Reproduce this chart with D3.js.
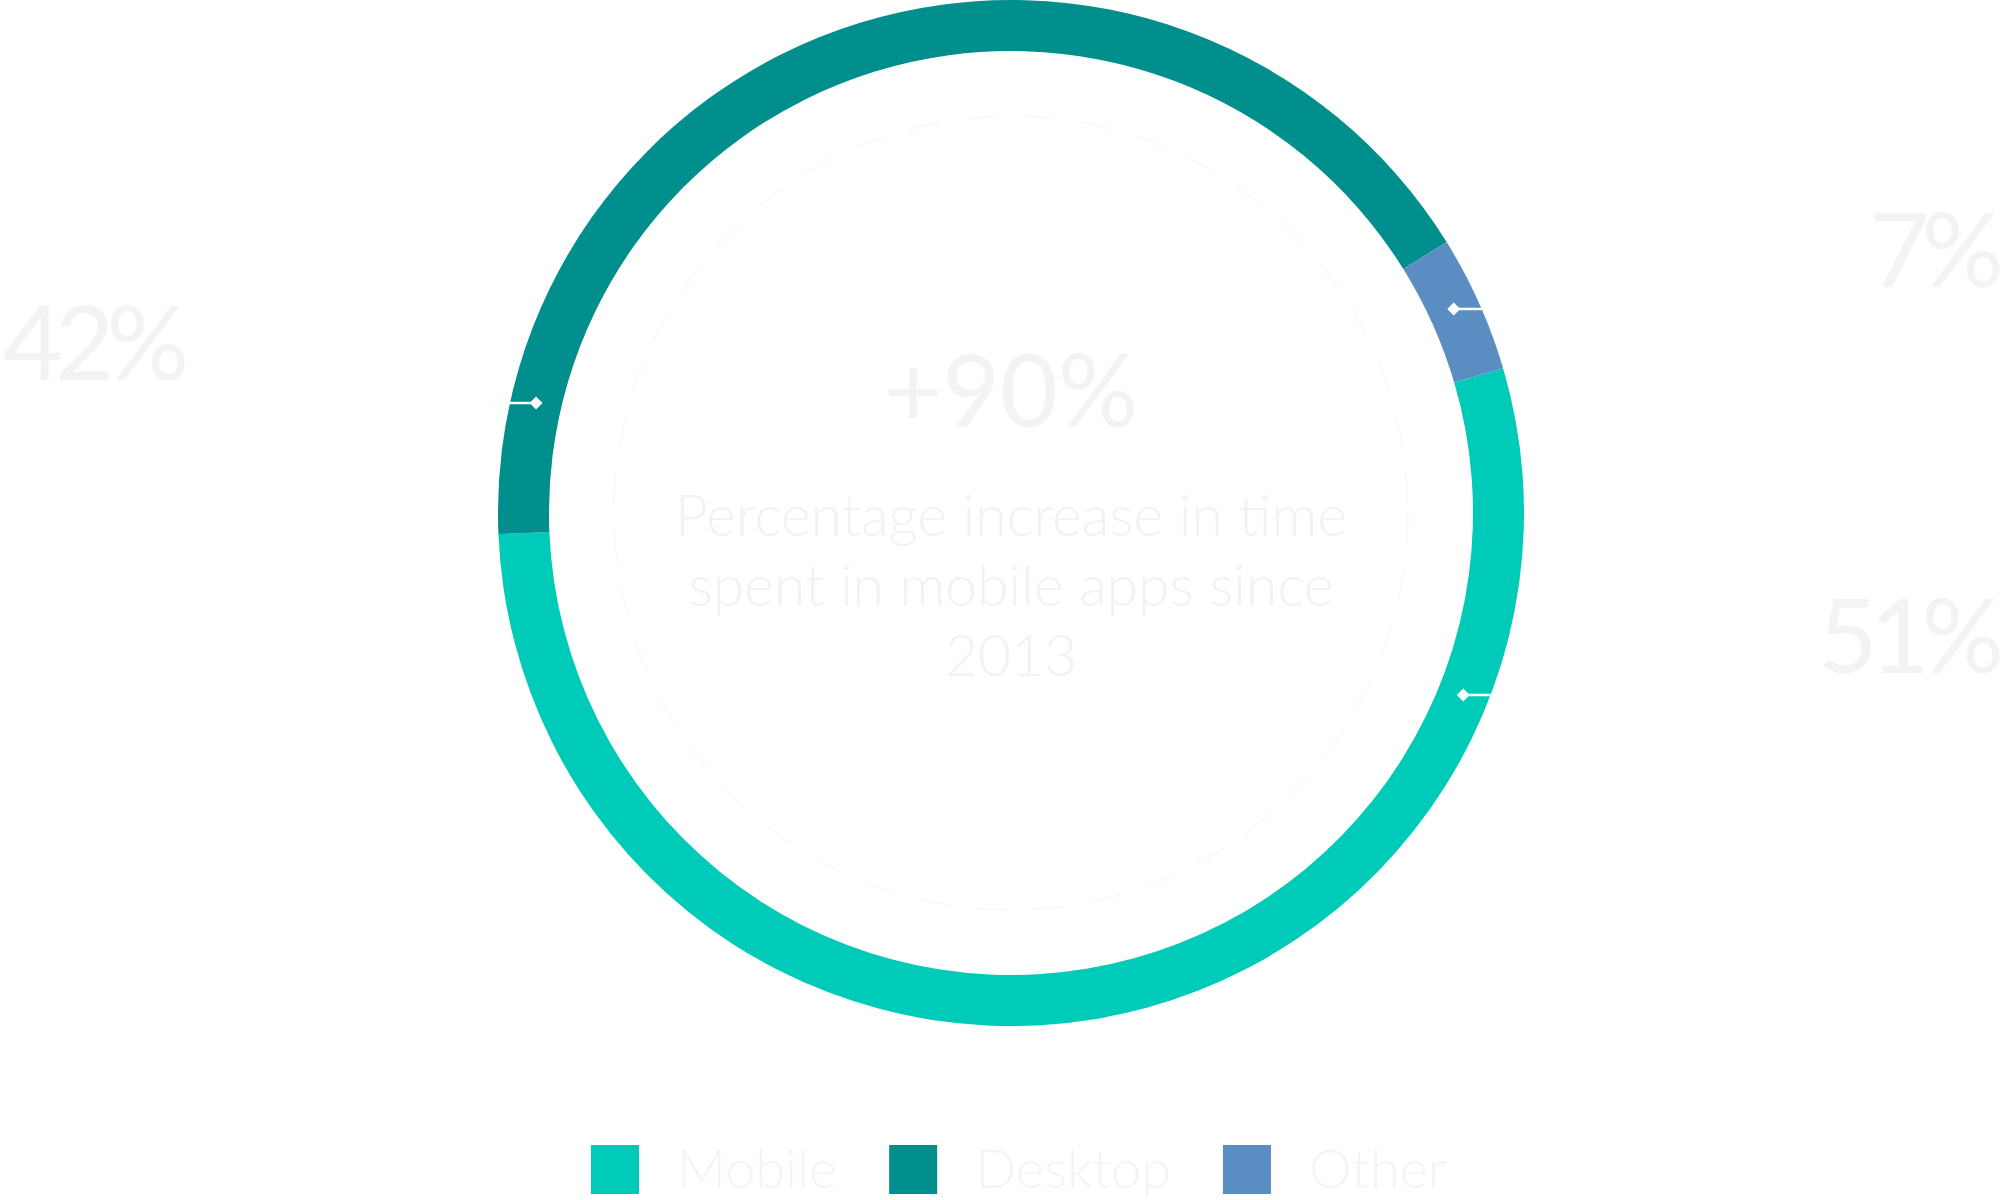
<!DOCTYPE html>
<html>
<head>
<meta charset="utf-8">
<script src="https://cdn.jsdelivr.net/npm/d3@7"></script>
<style>
  html, body { margin: 0; padding: 0; background: #ffffff; }
  svg { display: block; font-family: Lato, "Open Sans", sans-serif; }
</style>
</head>
<body>
<svg id="chart" width="2000" height="1200"></svg>
<script>
// ---- data ----
const categories = ["Mobile", "Desktop", "Other"];
const labelValues = [51, 42, 7];            // printed percentages
const arcShares = [53.9, 41.8, 4.3];        // arc sizes as drawn in the ring
const colors = ["#00cbb8", "#008f8c", "#5a8dc2"];
const centerValue = "+90%";
const centerLines = ["Percentage increase in time", "spent in mobile apps since", "2013"];

// ---- layout ----
const W = 2000, H = 1200;
const cx = 1011, cy = 513;
const rOuter = 513, rInner = 462, rDash = 397;
const startDeg = 73.6;
const labelLayout = {
  Mobile:  { side: "right", x: 1996, baseline: 673, leaderY: 695 },
  Desktop: { side: "left",  x: 3,    baseline: 380, leaderY: 403 },
  Other:   { side: "right", x: 1996, baseline: 287, leaderY: 309 }
};

const data = categories.map((c, i) => ({ name: c, label: labelValues[i], share: arcShares[i], color: colors[i] }));

const svg = d3.select("#chart");
const g = svg.append("g").attr("transform", `translate(${cx},${cy})`);

const pie = d3.pie().sort(null).value(d => d.share)
  .startAngle(startDeg * Math.PI / 180)
  .endAngle(startDeg * Math.PI / 180 + 2 * Math.PI);
const arc = d3.arc().innerRadius(rInner).outerRadius(rOuter);

// dashed inner guide circle (very faint)
g.append("circle").attr("r", rDash)
  .attr("fill", "none").attr("stroke", "#f6f9f9").attr("stroke-width", 1.5)
  .attr("stroke-dasharray", "32 25");

// ring
g.selectAll("path.slice").data(pie(data)).join("path")
  .attr("class", "slice")
  .attr("d", arc)
  .attr("fill", d => d.data.color);

// leaders + labels
const rMid = (rInner + rOuter) / 2;
data.forEach(d => {
  const L = labelLayout[d.name];
  const dy = L.leaderY - cy;
  const sign = L.side === "right" ? 1 : -1;
  const xMid = cx + sign * Math.sqrt(rMid * rMid - dy * dy);
  const xOut = cx + sign * Math.sqrt(rOuter * rOuter - dy * dy);
  const xEnd = L.side === "right" ? W : 0;
  svg.append("line")
    .attr("x1", xOut).attr("x2", xEnd).attr("y1", L.leaderY).attr("y2", L.leaderY)
    .attr("stroke", "#fcfcfc").attr("stroke-width", 1.5);
  svg.append("line")
    .attr("x1", xMid).attr("x2", xOut).attr("y1", L.leaderY).attr("y2", L.leaderY)
    .attr("stroke", "#ffffff").attr("stroke-width", 2.5);
  const s = 6.5;
  svg.append("path")
    .attr("d", `M${xMid - s},${L.leaderY} L${xMid},${L.leaderY - s} L${xMid + s},${L.leaderY} L${xMid},${L.leaderY + s} Z`)
    .attr("fill", "#ffffff");
  svg.append("text")
    .attr("x", L.x).attr("y", L.baseline)
    .attr("text-anchor", L.side === "right" ? "end" : "start")
    .attr("font-size", 103).attr("font-weight", 400)
    .attr("letter-spacing", -8)
    .attr("fill", "#f3f3f3")
    .text(d.label + "%");
});

// center text
svg.append("text")
  .attr("x", cx).attr("y", 427).attr("text-anchor", "middle")
  .attr("font-size", 100).attr("font-weight", 400)
  .attr("fill", "#f3f3f3").text(centerValue);

svg.selectAll("text.body").data(centerLines).join("text")
  .attr("class", "body")
  .attr("x", cx).attr("y", (d, i) => 536 + i * 70)
  .attr("text-anchor", "middle")
  .attr("font-size", 57).attr("font-weight", 300)
  .attr("fill", "#f2f2f2").text(d => d);

// legend
const legend = svg.append("g").attr("transform", "translate(591,1145)");
let x = 0;
data.forEach((d, i) => {
  const item = legend.append("g").attr("transform", `translate(${x},0)`);
  item.append("rect").attr("width", 48).attr("height", 49).attr("fill", d.color);
  const t = item.append("text").attr("x", 86).attr("y", 43)
    .attr("font-size", 54).attr("font-weight", 300)
    .attr("fill", "#f3f4f4").text(d.name);
  x += 86 + t.node().getComputedTextLength() + 52;
});
</script>
</body>
</html>
